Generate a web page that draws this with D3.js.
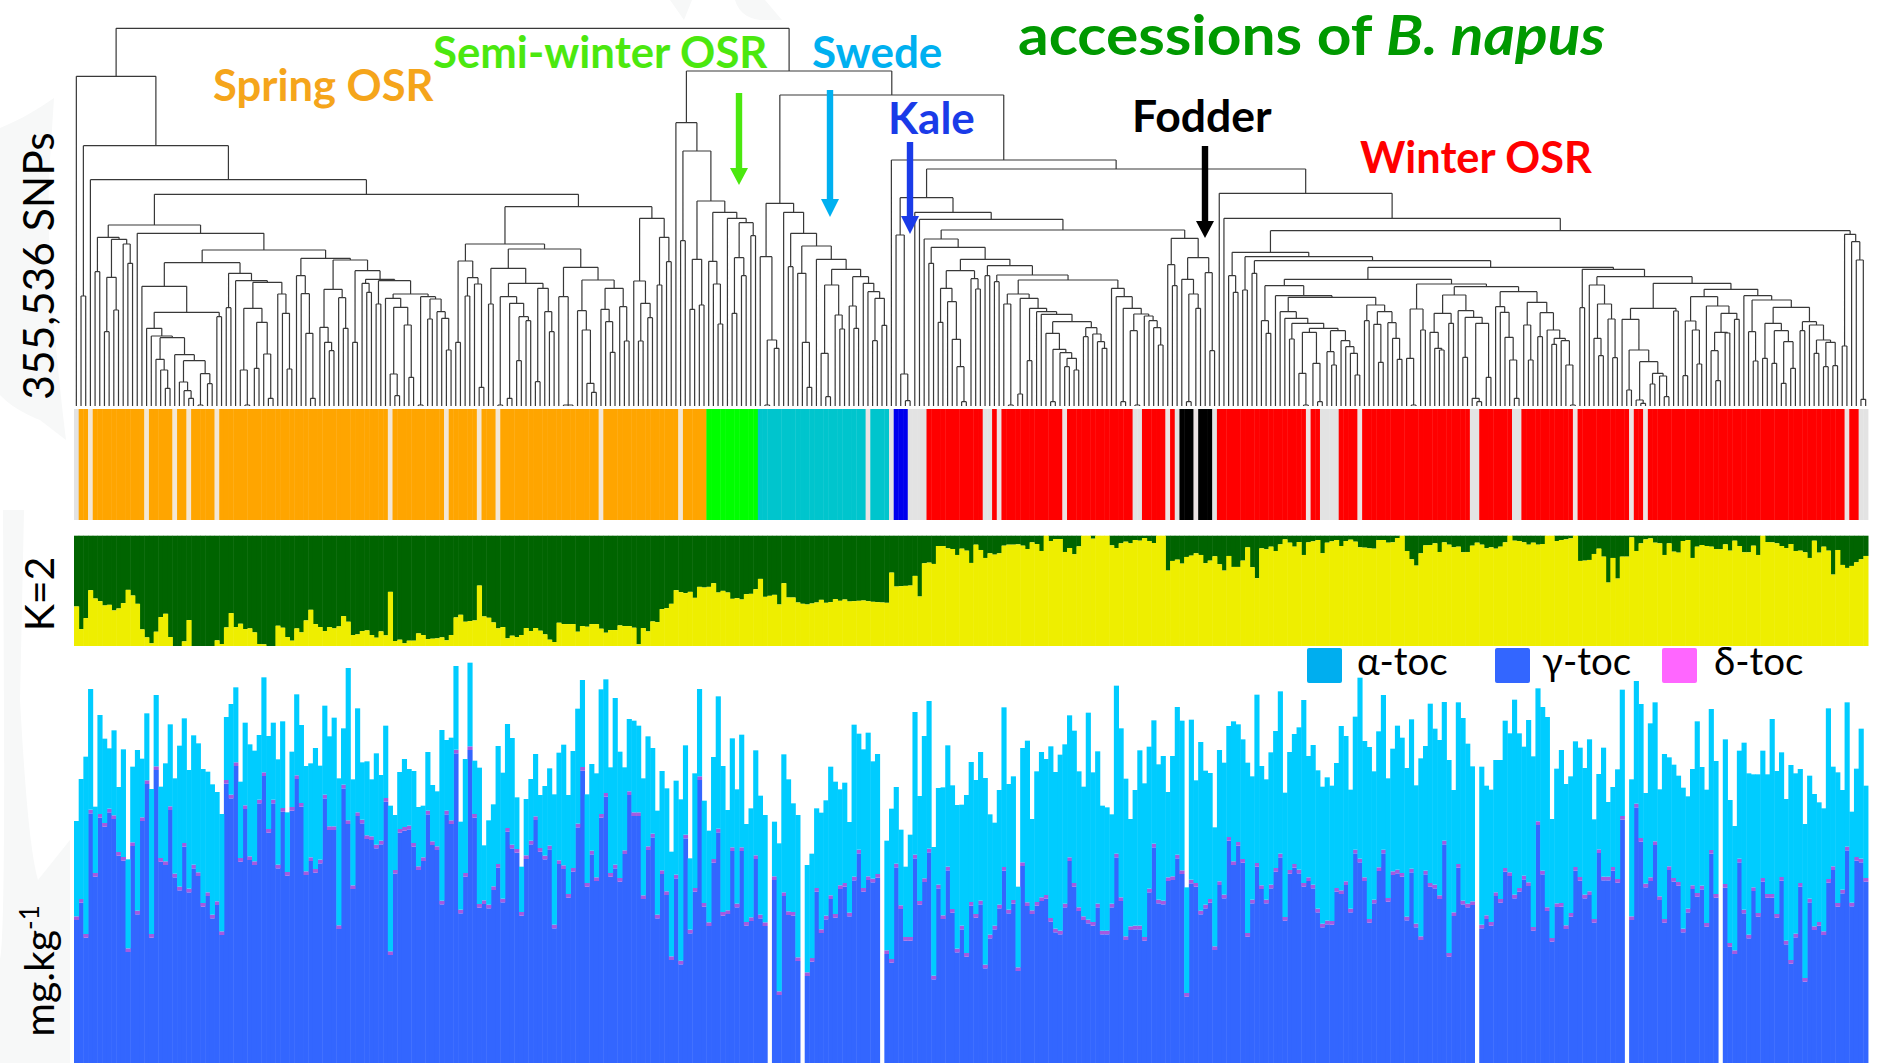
<!DOCTYPE html>
<html><head><meta charset="utf-8"><style>html,body{margin:0;padding:0;background:#fff}svg{display:block}text{font-family:Lato,"Noto Sans",sans-serif}</style>
<script src="https://cdn.jsdelivr.net/npm/d3@7"></script></head><body><svg id="c" width="1878" height="1063"></svg>
<script>
const totalToc=[726,852,919,1122,769,1044,973,944,998,828,941,611,889,939,913,1049,822,1104,829,899,1016,854,952,1034,879,983,959,882,874,836,813,747,1038,1077,1127,844,1021,956,937,984,1157,981,1021,911,1025,752,934,1106,1014,891,899,945,892,1072,980,1036,854,1004,1185,851,1064,902,905,851,929,864,1012,772,744,873,912,882,876,768,772,933,834,815,999,969,976,1191,724,912,1201,907,886,653,728,776,951,871,1017,975,797,589,792,852,927,804,831,884,806,931,955,804,936,1063,1149,806,897,869,1121,1151,887,1095,934,887,1032,1027,1012,854,980,945,757,876,824,634,847,791,953,614,869,1122,787,697,918,1100,891,759,974,821,985,717,764,938,802,744,0,724,659,926,851,779,744,0,594,628,764,751,788,889,844,821,841,723,1015,988,941,991,905,927,0,667,763,828,700,589,685,1053,801,981,1086,648,825,827,953,833,774,775,804,903,849,933,855,746,721,819,1067,837,860,529,945,967,732,875,933,912,950,873,925,956,1043,997,875,829,1051,872,935,772,767,746,1132,1004,853,732,819,938,839,949,1028,896,921,813,921,1068,1027,527,1030,848,963,877,870,707,939,901,1011,1025,1016,971,901,860,1105,891,851,932,996,1115,811,933,987,1007,1089,921,954,878,829,857,832,900,1011,981,820,1039,1156,966,948,875,995,1104,854,943,1012,976,885,1031,833,914,951,1078,1003,969,1083,909,819,1082,1035,958,890,0,889,832,820,909,909,1027,989,1090,989,949,1029,920,1124,1068,1038,732,883,939,837,860,965,946,885,971,731,867,946,783,828,881,1120,0,851,1146,1077,810,1019,1082,821,927,917,895,862,826,800,882,1025,888,820,1062,906,0,971,789,711,937,961,869,866,866,937,866,1032,876,932,792,894,869,882,717,862,807,782,764,1064,889,872,819,1082,754,883,1003,832];
const gammaToc=[429,481,376,749,559,736,709,752,732,622,607,333,651,446,726,837,376,879,604,594,759,557,518,649,512,584,561,469,501,434,474,384,838,794,891,604,762,609,594,779,861,691,779,584,754,562,757,852,769,564,606,571,599,794,699,699,402,824,717,522,741,719,672,669,644,656,784,324,568,691,697,701,649,579,606,746,654,639,476,746,717,929,449,559,939,736,466,477,464,519,586,482,694,644,631,442,612,656,729,634,611,641,404,597,582,496,574,707,877,529,626,546,736,799,559,584,544,627,804,741,741,492,639,677,434,567,504,309,554,296,674,389,514,849,469,411,601,692,442,447,636,467,636,412,426,612,434,411,0,549,204,501,444,442,306,0,261,304,514,390,431,492,436,522,529,440,548,629,514,549,542,556,0,327,301,587,462,367,367,614,475,543,632,251,524,432,578,451,332,401,319,472,436,476,284,374,401,464,577,449,478,276,591,471,447,472,486,493,424,392,386,467,606,529,456,429,419,412,467,386,386,467,617,486,369,399,401,401,367,512,647,479,476,546,549,614,567,199,539,529,446,464,481,339,534,494,667,594,652,601,379,479,589,522,479,524,574,617,427,568,586,569,529,546,524,452,407,416,415,514,507,534,452,629,602,546,421,479,576,629,484,564,569,559,428,572,407,369,566,529,524,492,656,319,441,586,476,467,474,0,404,432,412,501,481,574,561,494,514,551,531,397,714,566,456,364,468,469,402,439,577,547,494,504,421,630,548,548,577,541,730,0,429,767,664,527,546,654,489,421,579,544,532,392,452,522,499,521,409,628,496,0,526,349,327,602,449,374,516,439,544,496,496,436,547,356,298,377,529,244,482,399,412,384,541,579,469,509,638,470,607,602,544];
const deltaToc=[
11,11,11,11,11,11,11,11,11,11,11,11,11,11,11,11,11,11,11,11,
11,11,11,11,11,11,11,11,11,11,11,11,11,11,11,11,11,11,11,11,
11,11,11,11,11,11,11,11,11,11,11,11,11,11,11,11,11,11,11,11,
11,11,11,11,11,11,11,11,11,11,11,11,11,11,11,11,11,11,11,11,
11,11,11,11,11,11,11,11,11,11,11,11,11,11,11,11,11,11,11,11,
11,11,11,11,11,11,11,11,11,11,11,11,11,11,11,11,11,11,11,11,
11,11,11,11,11,11,11,11,11,11,11,11,11,11,11,11,11,11,11,11,
11,11,11,11,11,11,11,11,0,11,11,11,11,11,11,0,11,11,11,11,
11,11,11,11,11,11,11,11,11,11,11,11,0,11,11,11,11,11,11,11,
11,11,11,11,11,11,11,11,11,11,11,11,11,11,11,11,11,11,11,11,
11,11,11,11,11,11,11,11,11,11,11,11,11,11,11,11,11,11,11,11,
11,11,11,11,11,11,11,11,11,11,11,11,11,11,11,11,11,11,11,11,
11,11,11,11,11,11,11,11,11,11,11,11,11,11,11,11,11,11,11,11,
11,11,11,11,11,11,11,11,11,11,11,11,11,11,11,11,11,11,11,11,
11,11,11,11,11,11,11,11,11,11,11,11,11,11,11,11,11,11,11,0,
11,11,11,11,11,11,11,11,11,11,11,11,11,11,11,11,11,11,11,11,
11,11,11,11,11,11,11,11,11,11,11,0,11,11,11,11,11,11,11,11,
11,11,11,11,11,11,11,11,11,11,11,0,11,11,11,11,11,11,11,11,
11,11,11,11,11,11,11,11,11,11,11,11,11,11,11,11,11,11,11,11,
11,11,11];
const kYellow=[119,51,84,168,143,135,122,124,107,113,129,169,152,127,50,26,8,43,87,97,27,0,0,14,78,0,0,0,0,0,17,6,56,99,57,67,51,53,41,6,5,0,0,61,55,27,16,53,41,77,109,66,57,45,57,53,59,90,73,33,35,45,47,33,25,44,32,163,15,19,8,16,16,38,33,21,22,23,26,17,33,86,94,73,75,77,182,89,85,71,53,57,23,31,27,33,54,45,54,46,35,19,12,70,66,66,66,43,60,58,66,66,52,40,48,48,62,60,60,55,5,54,44,74,72,111,114,127,168,162,159,163,145,178,176,178,189,161,166,161,142,144,140,156,157,171,202,148,151,154,125,189,146,146,131,127,125,128,131,139,130,132,141,136,140,134,135,136,137,135,133,132,131,130,221,179,180,181,182,211,149,249,251,247,301,301,294,292,274,293,287,250,305,289,265,279,275,279,302,305,305,306,302,292,312,307,286,332,316,322,322,283,295,276,300,332,332,323,332,332,332,303,295,309,314,309,319,317,325,316,310,332,332,227,256,260,248,268,272,279,274,249,257,270,246,227,271,238,238,257,297,237,204,294,291,299,286,306,321,311,299,313,274,312,315,319,279,311,315,319,301,316,320,314,297,296,294,293,319,319,311,312,325,332,286,261,242,279,303,304,309,283,312,305,297,299,282,283,302,311,305,294,297,293,299,312,332,317,316,312,305,311,305,307,332,332,316,319,321,324,332,256,257,259,277,293,269,191,265,203,269,269,327,286,309,321,324,311,309,274,309,284,281,316,319,265,299,304,301,299,292,291,306,287,317,301,282,282,302,274,332,313,312,309,301,295,307,286,287,282,265,317,281,299,287,215,289,244,235,241,252,261,271];
const groupNames=["Unassigned","Spring OSR","Semi-winter OSR","Swede","Kale","Fodder","Winter OSR"];
const groupColors=["#e3e3e3","#ffa500","#00ff00","#00c5cd","#0000ee","#000000","#ff0000"];
const groupRuns=[[0,1],[1,2],[0,1],[1,11],[0,1],[1,5],[0,1],[1,2],[0,1],[1,5],[0,1],[1,36],[0,1],[1,11],[0,1],[1,6],[0,1],[1,3],[0,1],[1,21],[0,1],[1,16],[0,1],[1,5],[2,11],[3,23],[0,1],[3,4],[0,1],[4,3],[0,4],[6,12],[0,2],[6,1],[0,1],[6,13],[0,1],[6,14],[0,2],[6,5],[0,1],[6,1],[0,1],[5,3],[0,1],[5,3],[0,1],[6,19],[0,1],[6,2],[0,4],[6,4],[0,1],[6,23],[0,2],[6,7],[0,2],[6,11],[0,1],[6,11],[0,1],[6,2],[0,1],[6,42],[0,1],[6,2],[0,2]];
const labelTexts=["Spring OSR","Semi-winter OSR","Swede","Kale","Fodder","Winter OSR"];
const labelColors=["#f5a51b","#4be80f","#00b0f0","#1a3be8","#000000","#ff0000"];
const legendNames=["α-toc","γ-toc","δ-toc"];
const legendColors=["#00aeef","#3366ff","#ff66ff"];
// dendrogram: [merge depth below the top of the panel, ...children]; 1 is one accession
const springTree=[229,1,[437,[888,1,1],[539,1,[583,[675,[712,[815,1,1],[718,[832,[995,1,1],[930,1,1]],[732,1,[790,1,1]]]],[700,1,[750,[788,[859,1,[937,[985,1,[1008,1,[1013,[1078,1,[1110,1,[1165,1,1]]],[1064,1,[1082,[1146,1,[1172,1,[1195,1,1]]],[1121,[1215,1,1],[1151,1,1]]]]]]],[950,1,1]]],[820,[923,1,1],[842,1,[847,[925,[1110,1,[1215,1,1]],[967,[1105,1,1],[1062,1,[1195,1,1]]]],[882,1,[940,1,[1107,1,1]]]]]]],[775,[827,1,[881,1,[1000,1,[1195,1,1]]]],[780,[868,[982,1,[1027,1,[1052,1,1]]],[893,1,[985,1,1]]],[812,[1027,1,1],[838,[850,1,[877,1,1]],[842,[912,1,1],[882,[895,1,[922,[1122,1,[1187,1,1]],[975,1,[1132,1,1]]]],[890,[1215,1,1],[897,[957,1,1],[935,1,[955,1,[1050,1,1]]]]]]]]]]]]]],[620,[732,[783,[1027,1,1],[833,[888,1,1],[852,1,[1162,1,1]]]],[747,[805,[912,1,1],[850,[890,[1215,1,1],[910,[1195,1,1],[950,[1082,1,1],[962,1,1]]]],[865,[1145,1,1],[935,1,[995,1,1]]]]],[802,[890,1,[1215,1,1,1]],[840,[932,1,[990,1,[1150,1,[1177,1,1]]]],[865,[928,1,[965,1,[1057,1,1]]],[920,1,[1023,1,1]]]]]]],[655,[843,1,[910,[1023,1,1],[953,1,1]]],[712,[855,1,1],[785,1,1]]]]]]]];
const semiTree=[368,1,[453,[722,1,1],[603,[778,[928,1,1],[915,1,1]],[637,[784,1,[852,1,[972,1,1]]],[655,1,[668,[773,[940,1,1],[827,1,1]],[707,1,1]]]]]]];
const swedeTree=[610,[770,1,[1020,[1215,1,1],[1045,1,1]]],[637,1,[700,[800,1,1],[738,[820,1,[1027,1,[1162,1,1]]],[778,1,[808,[855,[1060,1,[1190,1,1]],[945,1,[987,1,1]]],[830,[918,1,[985,1,1]],[850,1,[875,1,[895,[1022,1,1],[976,1,1]]]]]]]]]]];
const midTree=[593,[705,1,[1122,1,[1202,1,1]]],[637,1,[658,1,[690,[717,1,[742,[790,1,1],[778,[812,[865,[967,1,1],[905,1,[1018,1,[1100,1,[1205,1,1]]]]],[836,1,[867,1,1]]],[797,[827,1,1],[825,[845,1,1],[840,[882,[912,1,[1215,1,1]],[895,[1182,1,1],[925,[1082,1,1],[935,1,[943,1,[965,[1000,1,[1048,[1205,1,1],[1058,1,[1075,[1100,1,1],[1110,1,1]]]]],[983,[1010,1,1],[1002,1,[1025,1,[1045,1,1]]]]]]]]]],[865,1,[890,1,[925,[1205,1,1],[942,[992,1,[1215,1,1]],[948,1,[962,1,[983,1,[1035,1,1]]]]]]]]]]]]]],[715,[794,1,[857,1,1]],[773,[838,1,[882,[1205,1,1],[925,1,1]]],[818,1,[1052,1,1]]]]]]]];
const winterA=[838,[857,[962,1,[1000,1,1]],[887,1,[892,[935,1,[955,1,[970,[1017,1,1],[985,[997,[1120,1,[1215,1,1]],[1090,1,[1205,1,1]]],[992,[1055,1,[1095,1,1]],[1022,1,[1040,1,[1060,1,[1125,1,1]]]]]]]]],[915,[962,1,1],[935,[973,1,[1087,1,1]],[968,1,[1015,1,[1078,1,1]]]]]]]],[852,[927,[1075,1,[1215,1,1]],[990,1,1]],[860,[885,[940,[997,1,[1045,1,[1050,1,1]]],[970,1,1]],[932,1,[952,[1072,1,1],[970,[1195,1,[1205,1,1]],[1132,1,1]]]]],[875,[920,1,[937,1,[1012,1,[1080,1,[1195,1,1]]]]],[907,[975,1,[1080,1,1]],[938,[1010,1,1],[990,1,[1015,[1033,1,1],[1022,1,[1095,1,[1215,1,1]]]]]]]]]]];
const winterB=[808,[923,1,1],[830,[855,1,[912,[1015,1,[1067,1,1]],[957,1,[1073,1,1]]]],[850,[925,[958,1,[1050,[1170,1,1],[1085,[1200,1,[1210,1,1]],[1120,[1152,1,1],[1128,1,[1190,1,1]]]]]],[933,1,1]],[868,[890,[963,[1127,1,1],[990,1,[1092,1,1]]],[918,1,[940,[997,[1052,1,[1142,1,1]],[999,1,1]],[958,1,1]]]],[887,1,[900,[995,1,[1083,1,1]],[922,[970,[1075,1,1],[992,[1090,1,1],[1025,[1150,1,1],[1105,1,1]]]],[965,[992,1,1],[975,1,[1020,[1060,1,1],[1027,[1100,1,1],[1097,1,1]]]]]]]]]]]];
const winterTree=[580,1,[655,1,[692,[757,[827,1,[877,1,1]],[770,[870,1,1],[782,[820,1,1],[802,winterA,winterB]]]],[703,[1038,1,1],[725,1,[780,1,[1198,1,1]]]]]]];
const treeRoot=[85,springTree,[213,semiTree,[285,swedeTree,[480,1,[507,midTree,winterTree]]]]];

const idx=d3.range(totalToc.length);
const svg=d3.select("#c");
const x=d3.scaleBand().domain(idx).range([74,1868]).paddingInner(0).paddingOuter(0);
const yToc=d3.scaleLinear().domain([0,1209]).range([1063,660]);
const yK=d3.scaleLinear().domain([0,332]).range([646,535.7]);
const yTree=d3.scaleLinear().domain([0,1218]).range([0,406]);

// faint watermark behind the figure
const wm=svg.append("g").attr("fill","#f7f8f8");
["M0,128 C20,120 40,108 54,98 L50,160 C45,240 55,350 66,440 L40,420 C15,410 5,400 0,395 Z",
 "M3,510 L24,510 L20,700 C25,790 30,850 38,880 L70,840 L70,1063 L0,1063 L0,960 C6,940 4,700 3,510 Z",
 "M670,0 L684,20 L692,0 Z M735,0 C738,10 745,18 760,20 L782,20 L765,0 Z"
].forEach(d=>wm.append("path").attr("d",d));

// dendrogram
const hier=d3.hierarchy(treeRoot,n=>Array.isArray(n)?n.slice(1):null);
let leafNo=0;
hier.eachAfter(n=>{
  if(!n.children){n.px=x(leafNo)+x.bandwidth()/2;n.py=yTree(1218);leafNo++;}
  else{n.px=(n.children[0].px+n.children[n.children.length-1].px)/2;n.py=yTree(n.data[0]);}
});
const treePath=d3.path();
hier.descendants().forEach(n=>{
  if(!n.children)return;
  const a=n.children[0],b=n.children[n.children.length-1];
  treePath.moveTo(a.px,n.py);treePath.lineTo(b.px,n.py);
  n.children.forEach(c=>{treePath.moveTo(c.px,n.py);treePath.lineTo(c.px,c.py);});
});
svg.append("path").attr("d",treePath.toString()).attr("fill","none").attr("stroke","#383838").attr("stroke-width",1.2);

// group strip: single-accession gaps read lighter and take a tint from the neighbouring block
const groupOf=groupRuns.flatMap(([g,n])=>d3.range(n).map(()=>g));
function stripColor(i){
  const g=groupOf[i];
  if(g!==0)return groupColors[g];
  const l=groupOf[i-1],r=groupOf[i+1];
  if(l===1&&r===1)return "#f3e7d6";
  if(l&&r&&l===r)return "#ece3e3";
  return groupColors[0];
}
svg.append("g").selectAll("rect").data(idx).join("rect")
 .attr("x",i=>x(i)).attr("width",x.bandwidth()+0.4).attr("y",409).attr("height",111)
 .attr("fill",stripColor);

// K=2 structure: the yellow share over a full dark green column
const kCol={yellow:"#eeee00",green:"#006400"};
const kG=svg.append("g");
kG.selectAll("rect.g").data(idx).join("rect").attr("class","g").attr("fill",kCol.green)
 .attr("x",i=>x(i)).attr("width",x.bandwidth()+0.5).attr("y",yK(332)).attr("height",i=>yK(kYellow[i])-yK(332));
kG.selectAll("rect.y").data(idx).join("rect").attr("class","y").attr("fill",kCol.yellow)
 .attr("x",i=>x(i)).attr("width",x.bandwidth()+0.5).attr("y",i=>yK(kYellow[i])).attr("height",i=>yK(0)-yK(kYellow[i]));

// tocopherol stacked bars
const tocRows=idx.map(i=>({gamma:gammaToc[i],delta:deltaToc[i],alpha:Math.max(0,totalToc[i]-gammaToc[i]-deltaToc[i])}));
const tocStack=d3.stack().keys(["gamma","delta","alpha"])(tocRows);
const tocCol={gamma:"#3366ff",delta:"#a45ae0",alpha:"#00ccff"};
svg.append("g").selectAll("g").data(tocStack).join("g").attr("fill",s=>tocCol[s.key])
 .selectAll("rect").data(s=>s).join("rect")
 .attr("x",(d,i)=>x(i)).attr("width",(d,i)=>totalToc[i]?x.bandwidth()+0.45:0)
 .attr("y",d=>yToc(d[1])).attr("height",d=>yToc(d[0])-yToc(d[1]));

// legend
const legSw=[1307,1495,1662],legTx=[1357,1542,1714];
legendNames.forEach((t,i)=>{
  svg.append("rect").attr("x",legSw[i]).attr("y",648).attr("width",35).attr("height",35).attr("rx",2).attr("fill",legendColors[i]);
  svg.append("text").attr("x",legTx[i]).attr("y",675).attr("font-size",38.5).attr("fill","#000").text(t);
});

// group labels and arrows
const labX=[213,433,812,888,1132,1360],labY=[101,68,68,134,132,173],labS=[43.5,43.7,44,44,44.5,43.3];
labelTexts.forEach((t,i)=>svg.append("text").attr("x",labX[i]).attr("y",labY[i]).attr("font-size",labS[i]).attr("font-weight",700).attr("fill",labelColors[i]).text(t));
const arrows=[[739,93,168,185,"#4be80f"],[830,90,199,217,"#00b0f0"],[910,142,216,234,"#1a3be8"],[1205,146,221,238,"#000000"]];
arrows.forEach(([ax,y0,yh,y1,c])=>{
  svg.append("path").attr("fill",c).attr("d",`M${ax-3.2},${y0}L${ax+3.2},${y0}L${ax+3.2},${yh}L${ax+9},${yh}L${ax},${y1}L${ax-9},${yh}L${ax-3.2},${yh}Z`);
});

// title
const title=svg.append("text").attr("transform","translate(1018,54.5) scale(1.1,1)").attr("font-size",55).attr("font-weight",700).attr("fill","#009900");
title.append("tspan").text("accessions of ");
title.append("tspan").attr("font-style","italic").text("B. napus");

// side labels
function side(t,cy,fs){return svg.append("text").attr("transform",`translate(54,${cy}) rotate(-90)`).attr("text-anchor","middle").attr("font-size",fs).attr("fill","#000").text(t);}
side("355,536 SNPs",266,42.5);
side("K=2",594,41);
const mg=side("mg.kg",971,41);
mg.append("tspan").attr("font-size",26).attr("dy",-15).text("-1");
</script></body></html>
